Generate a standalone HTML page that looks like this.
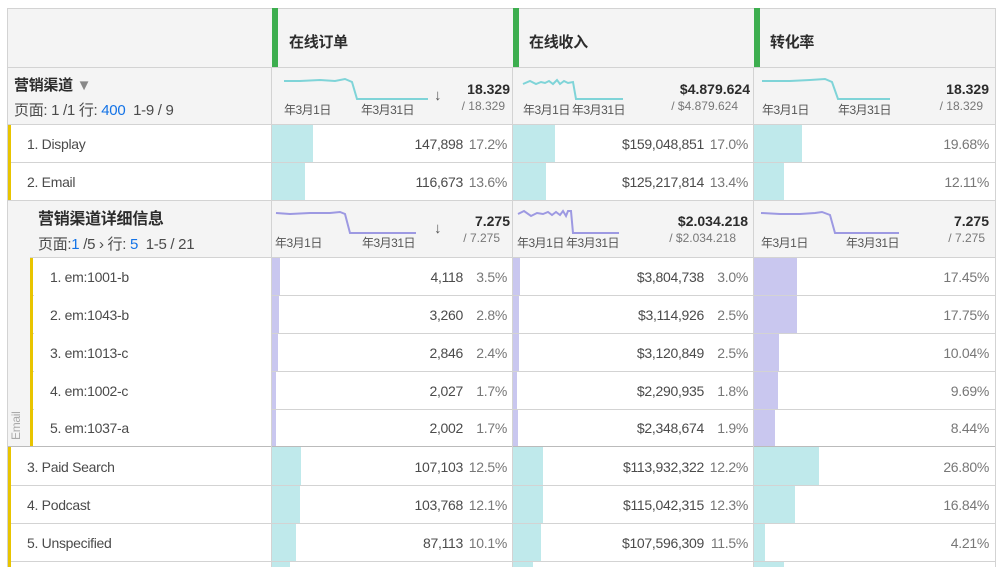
<!DOCTYPE html>
<html><head><meta charset="utf-8"><style>
body{margin:0;width:1003px;height:567px;overflow:hidden;background:#fff;font-family:"Liberation Sans","Noto Sans CJK SC",sans-serif;color:#4b4b4b;position:relative}
div,span{position:absolute;box-sizing:border-box}
.hl{height:1px;background:#d3d3d3}
.vl{width:1px;background:#d3d3d3}
.t{font-size:14px;white-space:nowrap;letter-spacing:-0.3px}
.r{text-align:right}
.tb{background:#bfe9eb}
.lb{background:#c9c7ef}
.y{background:#e8c400}
.g{background:#3dae4f}
.big{font-size:14px;font-weight:bold;color:#2c2c2c}
.sm{font-size:12px;color:#777}
.dl{font-size:12px;color:#555;white-space:nowrap;letter-spacing:-0.5px}
.ar{font-size:15px;font-weight:bold;color:#555}
</style></head><body>
<div style="left:8px;top:8px;width:988px;height:117px;background:#f4f4f4"></div>
<div style="left:30px;top:201px;width:966px;height:57px;background:#f4f4f4"></div>
<div style="left:8px;top:201px;width:22px;height:246px;background:#f4f4f4"></div>

<div class="hl" style="left:8px;top:8px;width:988px"></div>
<div class="hl" style="left:8px;top:67px;width:988px"></div>
<div class="hl" style="left:8px;top:124px;width:988px"></div>
<div class="hl" style="left:8px;top:162px;width:988px"></div>
<div class="hl" style="left:8px;top:200px;width:988px"></div>
<div class="hl" style="left:30px;top:257px;width:966px"></div>
<div class="hl" style="left:30px;top:295px;width:966px"></div>
<div class="hl" style="left:30px;top:333px;width:966px"></div>
<div class="hl" style="left:30px;top:371px;width:966px"></div>
<div class="hl" style="left:30px;top:409px;width:966px"></div>
<div class="hl" style="left:8px;top:446px;width:988px;background:#bbb"></div>
<div class="hl" style="left:8px;top:485px;width:988px"></div>
<div class="hl" style="left:8px;top:523px;width:988px"></div>
<div class="hl" style="left:8px;top:561px;width:988px"></div>
<div class="vl" style="left:7px;top:8px;height:559px"></div>
<div class="vl" style="left:995px;top:8px;height:559px"></div>
<div class="vl" style="left:271px;top:68px;height:499px"></div>
<div class="vl" style="left:512px;top:68px;height:499px"></div>
<div class="vl" style="left:753px;top:68px;height:499px"></div>

<div class="g" style="left:272px;top:8px;width:6px;height:59px"></div>
<div class="g" style="left:513px;top:8px;width:6px;height:59px"></div>
<div class="g" style="left:754px;top:8px;width:6px;height:59px"></div>
<div class="t" style="left:289px;top:31px;font-size:15px;color:#2c2c2c;font-weight:bold">在线订单</div>
<div class="t" style="left:529px;top:31px;font-size:15px;color:#2c2c2c;font-weight:bold">在线收入</div>
<div class="t" style="left:770px;top:31px;font-size:15px;color:#2c2c2c;font-weight:bold">转化率</div>

<div class="t" style="left:14px;top:74px;font-size:15px;font-weight:bold;color:#2c2c2c">营销渠道 <span style="position:relative;color:#888;font-size:15px">▼</span></div>
<div class="t" style="left:14px;top:99px;font-size:15px">页面: 1 /1 行: <span style="position:relative;color:#1473e6">400</span>&nbsp; 1-9 / 9</div>

<svg style="position:absolute;left:0;top:0" width="1003" height="567">
<polyline fill="none" stroke="#7fd4d8" stroke-width="2" points="284,81 300,81 320,80 335,81 345,79 352,82 357,99 428,99"/>
<polyline fill="none" stroke="#7fd4d8" stroke-width="2" points="523,84 530,81 536,84 541,82 545,83 549,81 553,84 557,80 560,84 564,81 568,83 573,82 576,99 623,99"/>
<polyline fill="none" stroke="#7fd4d8" stroke-width="2" points="762,81 790,81 810,80 825,79 832,82 838,99 890,99"/>
<polyline fill="none" stroke="#9d99e2" stroke-width="2" points="276,213 290,214 310,213 330,213 340,212 345,214 350,233 416,233"/>
<polyline fill="none" stroke="#9d99e2" stroke-width="2" points="518,214 524,211 531,216 537,213 543,214 548,212 552,215 556,212 560,215 563,211 566,216 568,211 571,211 573,233 619,233"/>
<polyline fill="none" stroke="#9d99e2" stroke-width="2" points="761,213 780,214 800,214 815,213 822,212 830,215 835,233 899,233"/>
</svg>
<div class="dl" style="left:284px;top:101px">年3月1日</div><div class="dl" style="left:361px;top:101px">年3月31日</div>
<div class="dl" style="left:523px;top:101px">年3月1日</div><div class="dl" style="left:572px;top:101px">年3月31日</div>
<div class="dl" style="left:762px;top:101px">年3月1日</div><div class="dl" style="left:838px;top:101px">年3月31日</div>
<div class="ar" style="left:434px;top:87px">↓</div>
<div class="big r" style="left:400px;width:110px;top:81px">18.329</div>
<div class="sm r" style="left:400px;width:105px;top:99px">/ 18.329</div>
<div class="big r" style="left:600px;width:150px;top:81px">$4.879.624</div>
<div class="sm r" style="left:600px;width:138px;top:99px">/ $4.879.624</div>
<div class="big r" style="left:880px;width:109px;top:81px">18.329</div>
<div class="sm r" style="left:880px;width:103px;top:99px">/ 18.329</div>

<div class="y" style="left:8px;top:125px;width:3px;height:75px"></div>
<div class="t" style="left:27px;top:136px">1. Display</div>
<div class="tb" style="left:272px;top:125px;width:41px;height:37px"></div>
<div class="t r" style="left:300px;width:163px;top:136px">147,898</div><div class="t r" style="left:460px;width:47px;top:136px;color:#777">17.2%</div>
<div class="tb" style="left:513px;top:125px;width:42px;height:37px"></div>
<div class="t r" style="left:560px;width:144px;top:136px">$159,048,851</div><div class="t r" style="left:700px;width:48px;top:136px;color:#777">17.0%</div>
<div class="tb" style="left:754px;top:125px;width:48px;height:37px"></div>
<div class="t r" style="left:900px;width:89px;top:136px;color:#777">19.68%</div>

<div class="t" style="left:27px;top:174px">2. Email</div>
<div class="tb" style="left:272px;top:163px;width:33px;height:37px"></div>
<div class="t r" style="left:300px;width:163px;top:174px">116,673</div><div class="t r" style="left:460px;width:47px;top:174px;color:#777">13.6%</div>
<div class="tb" style="left:513px;top:163px;width:33px;height:37px"></div>
<div class="t r" style="left:560px;width:144px;top:174px">$125,217,814</div><div class="t r" style="left:700px;width:48px;top:174px;color:#777">13.4%</div>
<div class="tb" style="left:754px;top:163px;width:30px;height:37px"></div>
<div class="t r" style="left:900px;width:89px;top:174px;color:#777">12.11%</div>

<div class="t" style="left:38px;top:205px;font-size:16px;font-weight:bold;color:#2c2c2c">营销渠道详细信息</div>
<div class="t" style="left:38px;top:233px;font-size:15px">页面:<span style="position:relative;color:#1473e6">1</span> /5 › 行: <span style="position:relative;color:#1473e6">5</span>&nbsp; 1-5 / 21</div>
<div class="dl" style="left:275px;top:234px">年3月1日</div><div class="dl" style="left:362px;top:234px">年3月31日</div>
<div class="dl" style="left:517px;top:234px">年3月1日</div><div class="dl" style="left:566px;top:234px">年3月31日</div>
<div class="dl" style="left:761px;top:234px">年3月1日</div><div class="dl" style="left:846px;top:234px">年3月31日</div>
<div class="ar" style="left:434px;top:220px">↓</div>
<div class="big r" style="left:400px;width:110px;top:213px">7.275</div>
<div class="sm r" style="left:400px;width:100px;top:231px">/ 7.275</div>
<div class="big r" style="left:600px;width:148px;top:213px">$2.034.218</div>
<div class="sm r" style="left:600px;width:136px;top:231px">/ $2.034.218</div>
<div class="big r" style="left:880px;width:109px;top:213px">7.275</div>
<div class="sm r" style="left:880px;width:105px;top:231px">/ 7.275</div>
<div class="t" style="left:9px;top:440px;font-size:12px;color:#aaa;transform:rotate(-90deg);transform-origin:0 0">Email</div>

<div class="y" style="left:30px;top:258px;width:3px;height:188px"></div>
<div style="left:34px;top:258px;width:237px;height:188px;background:#fff"></div>

<div class="t" style="left:50px;top:269px">1. em:1001-b</div>
<div class="lb" style="left:272px;top:258px;width:8px;height:37px"></div>
<div class="t r" style="left:300px;width:163px;top:269px">4,118</div><div class="t r" style="left:460px;width:47px;top:269px;color:#777">3.5%</div>
<div class="lb" style="left:513px;top:258px;width:7px;height:37px"></div>
<div class="t r" style="left:560px;width:144px;top:269px">$3,804,738</div><div class="t r" style="left:700px;width:48px;top:269px;color:#777">3.0%</div>
<div class="lb" style="left:754px;top:258px;width:43px;height:37px"></div>
<div class="t r" style="left:900px;width:89px;top:269px;color:#777">17.45%</div>

<div class="t" style="left:50px;top:307px">2. em:1043-b</div>
<div class="lb" style="left:272px;top:296px;width:7px;height:37px"></div>
<div class="t r" style="left:300px;width:163px;top:307px">3,260</div><div class="t r" style="left:460px;width:47px;top:307px;color:#777">2.8%</div>
<div class="lb" style="left:513px;top:296px;width:6px;height:37px"></div>
<div class="t r" style="left:560px;width:144px;top:307px">$3,114,926</div><div class="t r" style="left:700px;width:48px;top:307px;color:#777">2.5%</div>
<div class="lb" style="left:754px;top:296px;width:43px;height:37px"></div>
<div class="t r" style="left:900px;width:89px;top:307px;color:#777">17.75%</div>

<div class="t" style="left:50px;top:345px">3. em:1013-c</div>
<div class="lb" style="left:272px;top:334px;width:6px;height:37px"></div>
<div class="t r" style="left:300px;width:163px;top:345px">2,846</div><div class="t r" style="left:460px;width:47px;top:345px;color:#777">2.4%</div>
<div class="lb" style="left:513px;top:334px;width:6px;height:37px"></div>
<div class="t r" style="left:560px;width:144px;top:345px">$3,120,849</div><div class="t r" style="left:700px;width:48px;top:345px;color:#777">2.5%</div>
<div class="lb" style="left:754px;top:334px;width:25px;height:37px"></div>
<div class="t r" style="left:900px;width:89px;top:345px;color:#777">10.04%</div>

<div class="t" style="left:50px;top:383px">4. em:1002-c</div>
<div class="lb" style="left:272px;top:372px;width:4px;height:37px"></div>
<div class="t r" style="left:300px;width:163px;top:383px">2,027</div><div class="t r" style="left:460px;width:47px;top:383px;color:#777">1.7%</div>
<div class="lb" style="left:513px;top:372px;width:4px;height:37px"></div>
<div class="t r" style="left:560px;width:144px;top:383px">$2,290,935</div><div class="t r" style="left:700px;width:48px;top:383px;color:#777">1.8%</div>
<div class="lb" style="left:754px;top:372px;width:24px;height:37px"></div>
<div class="t r" style="left:900px;width:89px;top:383px;color:#777">9.69%</div>

<div class="t" style="left:50px;top:420px">5. em:1037-a</div>
<div class="lb" style="left:272px;top:410px;width:4px;height:36px"></div>
<div class="t r" style="left:300px;width:163px;top:420px">2,002</div><div class="t r" style="left:460px;width:47px;top:420px;color:#777">1.7%</div>
<div class="lb" style="left:513px;top:410px;width:5px;height:36px"></div>
<div class="t r" style="left:560px;width:144px;top:420px">$2,348,674</div><div class="t r" style="left:700px;width:48px;top:420px;color:#777">1.9%</div>
<div class="lb" style="left:754px;top:410px;width:21px;height:36px"></div>
<div class="t r" style="left:900px;width:89px;top:420px;color:#777">8.44%</div>

<div class="y" style="left:8px;top:447px;width:3px;height:120px"></div>
<div class="t" style="left:27px;top:459px">3. Paid Search</div>
<div class="tb" style="left:272px;top:447px;width:29px;height:38px"></div>
<div class="t r" style="left:300px;width:163px;top:459px">107,103</div><div class="t r" style="left:460px;width:47px;top:459px;color:#777">12.5%</div>
<div class="tb" style="left:513px;top:447px;width:30px;height:38px"></div>
<div class="t r" style="left:560px;width:144px;top:459px">$113,932,322</div><div class="t r" style="left:700px;width:48px;top:459px;color:#777">12.2%</div>
<div class="tb" style="left:754px;top:447px;width:65px;height:38px"></div>
<div class="t r" style="left:900px;width:89px;top:459px;color:#777">26.80%</div>

<div class="t" style="left:27px;top:497px">4. Podcast</div>
<div class="tb" style="left:272px;top:486px;width:28px;height:37px"></div>
<div class="t r" style="left:300px;width:163px;top:497px">103,768</div><div class="t r" style="left:460px;width:47px;top:497px;color:#777">12.1%</div>
<div class="tb" style="left:513px;top:486px;width:30px;height:37px"></div>
<div class="t r" style="left:560px;width:144px;top:497px">$115,042,315</div><div class="t r" style="left:700px;width:48px;top:497px;color:#777">12.3%</div>
<div class="tb" style="left:754px;top:486px;width:41px;height:37px"></div>
<div class="t r" style="left:900px;width:89px;top:497px;color:#777">16.84%</div>

<div class="t" style="left:27px;top:535px">5. Unspecified</div>
<div class="tb" style="left:272px;top:524px;width:24px;height:37px"></div>
<div class="t r" style="left:300px;width:163px;top:535px">87,113</div><div class="t r" style="left:460px;width:47px;top:535px;color:#777">10.1%</div>
<div class="tb" style="left:513px;top:524px;width:28px;height:37px"></div>
<div class="t r" style="left:560px;width:144px;top:535px">$107,596,309</div><div class="t r" style="left:700px;width:48px;top:535px;color:#777">11.5%</div>
<div class="tb" style="left:754px;top:524px;width:11px;height:37px"></div>
<div class="t r" style="left:900px;width:89px;top:535px;color:#777">4.21%</div>

<div class="tb" style="left:272px;top:562px;width:18px;height:5px"></div>
<div class="tb" style="left:513px;top:562px;width:20px;height:5px"></div>
<div class="tb" style="left:754px;top:562px;width:30px;height:5px"></div>
</body></html>
